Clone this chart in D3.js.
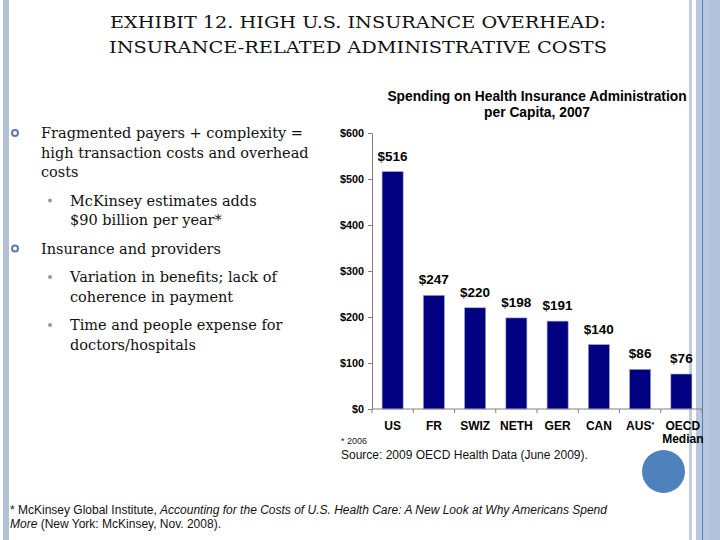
<!DOCTYPE html>
<html>
<head>
<meta charset="utf-8">
<script src="https://d3js.org/d3.v7.min.js"></script>
<style>
  body { margin: 0; background: #fff; }
  svg { display: block; }
</style>
</head>
<body>
<div id="container"></div>
<script>

/** DATA */
const countries = ["US", "FR", "SWIZ", "NETH", "GER", "CAN", "AUS*", "OECD Median"];
const spending = [516, 247, 220, 198, 191, 140, 86, 76];
const yTicks = [0, 100, 200, 300, 400, 500, 600];

const titleLines = ["EXHIBIT 12. HIGH U.S. INSURANCE OVERHEAD:", "INSURANCE-RELATED ADMINISTRATIVE COSTS"];
const chartTitle = ["Spending on Health Insurance Administration", "per Capita, 2007"];
const bullets = [
  { level: 1, lines: ["Fragmented payers + complexity =", "high transaction costs and overhead", "costs"] },
  { level: 2, lines: ["McKinsey estimates adds", "$90 billion per year*"] },
  { level: 1, lines: ["Insurance and providers"] },
  { level: 2, lines: ["Variation in benefits; lack of", "coherence in payment"] },
  { level: 2, lines: ["Time and people expense for", "doctors/hospitals"] }
];

/** CONSTANTS */
const width = 720, height = 540;
const margin = { top: 133, bottom: 131, left: 372, right: 18 };
const serif = "'DejaVu Serif', 'Liberation Serif', serif";
const sans = "'Liberation Sans', Arial, sans-serif";

const svg = d3.select("#container")
  .append("svg")
  .attr("width", width)
  .attr("height", height);

// slide decorations
svg.append("rect").attr("x", 3).attr("y", 0).attr("width", 6).attr("height", height).attr("fill", "#b4c0d6");
svg.append("rect").attr("x", 689).attr("y", 0).attr("width", 3).attr("height", height).attr("fill", "#c3ccda");
svg.append("rect").attr("x", 696).attr("y", 0).attr("width", 24).attr("height", height).attr("fill", "#b9c6df");
svg.append("rect").attr("x", 709).attr("y", 0).attr("width", 11).attr("height", height).attr("fill", "#b3c0da");
svg.append("rect").attr("x", 702).attr("y", 0).attr("width", 1).attr("height", height).attr("fill", "#5f7fa6");

// slide title
svg.selectAll(".title")
  .data(titleLines)
  .join("text")
  .attr("class", "title")
  .attr("x", 358)
  .attr("y", (d, i) => 28 + i * 25)
  .attr("text-anchor", "middle")
  .attr("font-family", serif)
  .attr("font-size", 17)
  .attr("fill", "#111")
  .attr("textLength", (d, i) => i === 0 ? 496 : 498)
  .attr("lengthAdjust", "spacingAndGlyphs")
  .text(d => d);

// bullet list
let by = 138;
bullets.forEach((b, bi) => {
  if (bi > 0) by += 9;
  const tx = b.level === 1 ? 41 : 70;
  if (b.level === 1) {
    svg.append("circle").attr("cx", 15).attr("cy", by - 5).attr("r", 3)
      .attr("fill", "none").attr("stroke", "#5b7ea8").attr("stroke-width", 2);
  } else {
    svg.append("circle").attr("cx", 50).attr("cy", by - 5).attr("r", 2)
      .attr("fill", "#8a9cb5");
  }
  b.lines.forEach(line => {
    svg.append("text")
      .attr("x", tx)
      .attr("y", by)
      .attr("font-family", serif)
      .attr("font-size", 14.5)
      .attr("fill", "#111")
      .text(line);
    by += 19.5;
  });
});

// chart
const x = d3.scaleBand()
  .domain(countries)
  .range([margin.left, 702])
  .paddingInner(0.49)
  .paddingOuter(0.245);

const y = d3.scaleLinear()
  .domain([0, 600])
  .range([height - margin.bottom, margin.top]);

svg.selectAll(".ctitle")
  .data(chartTitle)
  .join("text")
  .attr("class", "ctitle")
  .attr("x", 537)
  .attr("y", (d, i) => 101 + i * 16)
  .attr("text-anchor", "middle")
  .attr("font-family", sans)
  .attr("font-weight", "bold")
  .attr("font-size", 13.8)
  .text(d => d);

svg.selectAll(".bar")
  .data(spending)
  .join("rect")
  .attr("class", "bar")
  .attr("x", (d, i) => x(countries[i]))
  .attr("y", d => y(d))
  .attr("width", x.bandwidth())
  .attr("height", d => y(0) - y(d))
  .attr("fill", "#000080")
  .attr("stroke", "#9aa3c8")
  .attr("stroke-width", 0.6);

svg.selectAll(".val")
  .data(spending)
  .join("text")
  .attr("class", "val")
  .attr("x", (d, i) => x(countries[i]) + x.bandwidth() / 2)
  .attr("y", d => y(d) - 11)
  .attr("text-anchor", "middle")
  .attr("font-family", sans)
  .attr("font-weight", "bold")
  .attr("font-size", 13.5)
  .text(d => "$" + d);

// y axis
const yAxis = svg.append("g")
  .attr("transform", `translate(${margin.left},0)`)
  .call(d3.axisLeft(y).tickValues(yTicks).tickSize(4).tickPadding(4).tickFormat(d => "$" + d));
yAxis.select(".domain").attr("stroke", "#808080");
yAxis.selectAll(".tick line").attr("stroke", "#808080");
yAxis.selectAll(".tick text")
  .attr("font-family", sans)
  .attr("font-weight", "bold")
  .attr("font-size", 10.8)
  .attr("fill", "#000");

// x axis
const xAxis = svg.append("g")
  .attr("transform", `translate(0,${y(0)})`)
  .call(d3.axisBottom(x).tickSize(0).tickPadding(0).tickFormat(""));
xAxis.select(".domain").attr("stroke", "#808080").attr("d", `M${margin.left},0H702`);
xAxis.selectAll(".sep")
  .data(d3.range(countries.length + 1))
  .join("line")
  .attr("class", "sep")
  .attr("x1", i => margin.left + i * x.step())
  .attr("x2", i => margin.left + i * x.step())
  .attr("y1", 0)
  .attr("y2", 4)
  .attr("stroke", "#808080");

svg.selectAll(".cat")
  .data(countries)
  .join("text")
  .attr("class", "cat")
  .attr("x", d => x(d) + x.bandwidth() / 2)
  .attr("y", 430)
  .attr("text-anchor", "middle")
  .attr("font-family", sans)
  .attr("font-weight", "bold")
  .attr("font-size", 12)
  .each(function(d) {
    const parts = d === "OECD Median" ? ["OECD", "Median"] : [d];
    d3.select(this).selectAll("tspan")
      .data(parts)
      .join("tspan")
      .attr("x", x(d) + x.bandwidth() / 2 + (parts.length > 1 ? 1.5 : 0))
      .attr("dy", (p, i) => i === 0 ? 0 : 13)
      .text(p => p.replace("*", ""))
      .filter(p => p.includes("*"))
      .append("tspan")
      .attr("font-size", 7)
      .attr("dy", -3)
      .text("*");
  });

// notes
svg.append("text").attr("x", 341).attr("y", 444)
  .attr("font-family", sans).attr("font-size", 9).attr("fill", "#222")
  .text("* 2006");
svg.append("text").attr("x", 341).attr("y", 459)
  .attr("font-family", sans).attr("font-size", 12).attr("fill", "#111")
  .text("Source: 2009 OECD Health Data (June 2009).");

// decorative circle
svg.append("circle").attr("cx", 663.5).attr("cy", 471.5).attr("r", 21.5).attr("fill", "#4f81bd");

// footnote
const foot1 = svg.append("text").attr("x", 10).attr("y", 514)
  .attr("font-family", sans).attr("font-size", 12).attr("fill", "#111");
foot1.append("tspan").text("* McKinsey Global Institute, ");
foot1.append("tspan").attr("font-style", "italic")
  .text("Accounting for the Costs of U.S. Health Care: A New Look at Why Americans Spend");
const foot2 = svg.append("text").attr("x", 10).attr("y", 528)
  .attr("font-family", sans).attr("font-size", 12).attr("fill", "#111");
foot2.append("tspan").attr("font-style", "italic").text("More");
foot2.append("tspan").text(" (New York: McKinsey, Nov. 2008).");

</script>
</body>
</html>
